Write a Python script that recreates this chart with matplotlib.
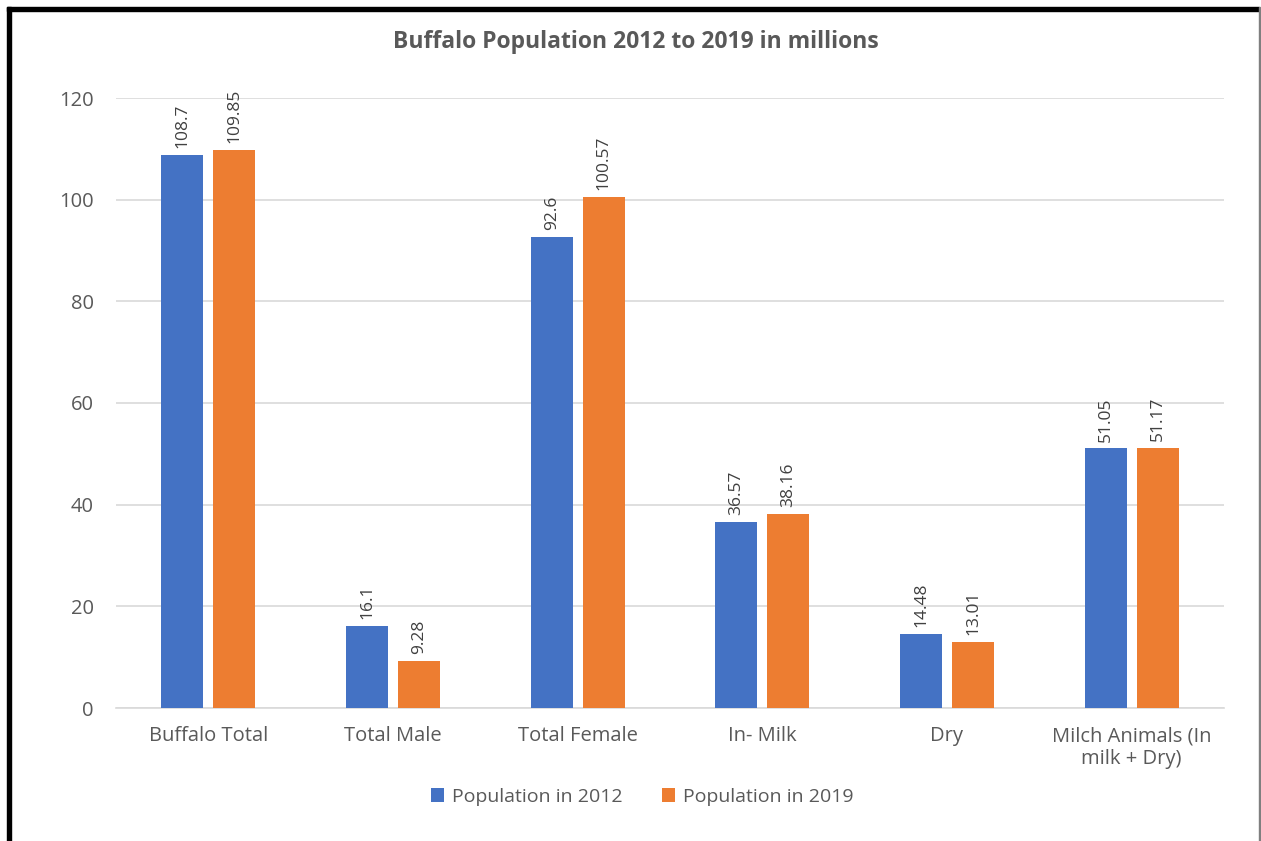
import matplotlib.pyplot as plt
import matplotlib.patches as mpatches
import numpy as np

plt.rcParams['font.family'] = ['Open Sans', 'DejaVu Sans']

categories = ["Buffalo Total", "Total Male", "Total Female", "In- Milk", "Dry",
              "Milch Animals (In\nmilk + Dry)"]
pop_2012 = [108.7, 16.1, 92.6, 36.57, 14.48, 51.05]
pop_2019 = [109.85, 9.28, 100.57, 38.16, 13.01, 51.17]
labels_2012 = ["108.7", "16.1", "92.6", "36.57", "14.48", "51.05"]
labels_2019 = ["109.85", "9.28", "100.57", "38.16", "13.01", "51.17"]

blue = "#4472C4"
orange = "#ED7D31"
text_col = "#595959"

fig = plt.figure(figsize=(12.61, 8.41), dpi=100)
ax = fig.add_axes([116 / 1261, 1 - 708 / 841, (1224 - 116) / 1261, (708 - 98) / 841])

x = np.arange(len(categories))
w = 0.227
gap = 0.054
off = (w + gap) / 2
b1 = ax.bar(x - off, pop_2012, w, color=blue, label="Population in 2012", zorder=3)
b2 = ax.bar(x + off, pop_2019, w, color=orange, label="Population in 2019", zorder=3)

for bars, labs in ((b1, labels_2012), (b2, labels_2019)):
    for rect, lab in zip(bars, labs):
        ax.annotate(lab, (rect.get_x() + rect.get_width() / 2, rect.get_height()),
                    xytext=(0, 5), textcoords="offset points", rotation=90,
                    ha="center", va="bottom", fontsize=12.5, color="#404040")

ax.set_xlim(-0.5, len(categories) - 0.5)
ax.set_ylim(0, 120)
ax.set_yticks(range(0, 121, 20))
ax.set_xticks(x)
ax.set_xticklabels(categories)
ax.tick_params(length=0, labelsize=14.5, colors=text_col)
ax.tick_params(axis="y", pad=16)
ax.tick_params(axis="x", pad=13)
ax.grid(axis="y", color="#D9D9D9", linewidth=1.2, zorder=0)
for side in ("top", "right", "left"):
    ax.spines[side].set_visible(False)
ax.spines["bottom"].set_color("#D9D9D9")
ax.spines["bottom"].set_linewidth(1.2)

fig.text(636 / 1261, 1 - 42 / 841, "Buffalo Population 2012 to 2019 in millions",
         ha="center", va="center", fontsize=16.5, fontweight="bold", color=text_col)

fig.legend(loc="center", bbox_to_anchor=(642 / 1261, 1 - 797 / 841), ncol=2,
           frameon=False, fontsize=14, labelcolor=text_col, handlelength=0.7,
           handleheight=0.7, handletextpad=0.4, columnspacing=2.0)

# outer frame
fig.patches.append(mpatches.Rectangle((7 / 1261, 0), 4 / 1261, 1 - 7 / 841,
                                      transform=fig.transFigure, color="black"))
fig.patches.append(mpatches.Rectangle((7 / 1261, 1 - 11 / 841), 1252 / 1261, 4 / 841,
                                      transform=fig.transFigure, color="black"))
fig.patches.append(mpatches.Rectangle((1258.5 / 1261, 0), 1 / 1261, 1 - 7 / 841,
                                      transform=fig.transFigure, color="#7F7F7F"))

fig.savefig("out.png", dpi=100)
